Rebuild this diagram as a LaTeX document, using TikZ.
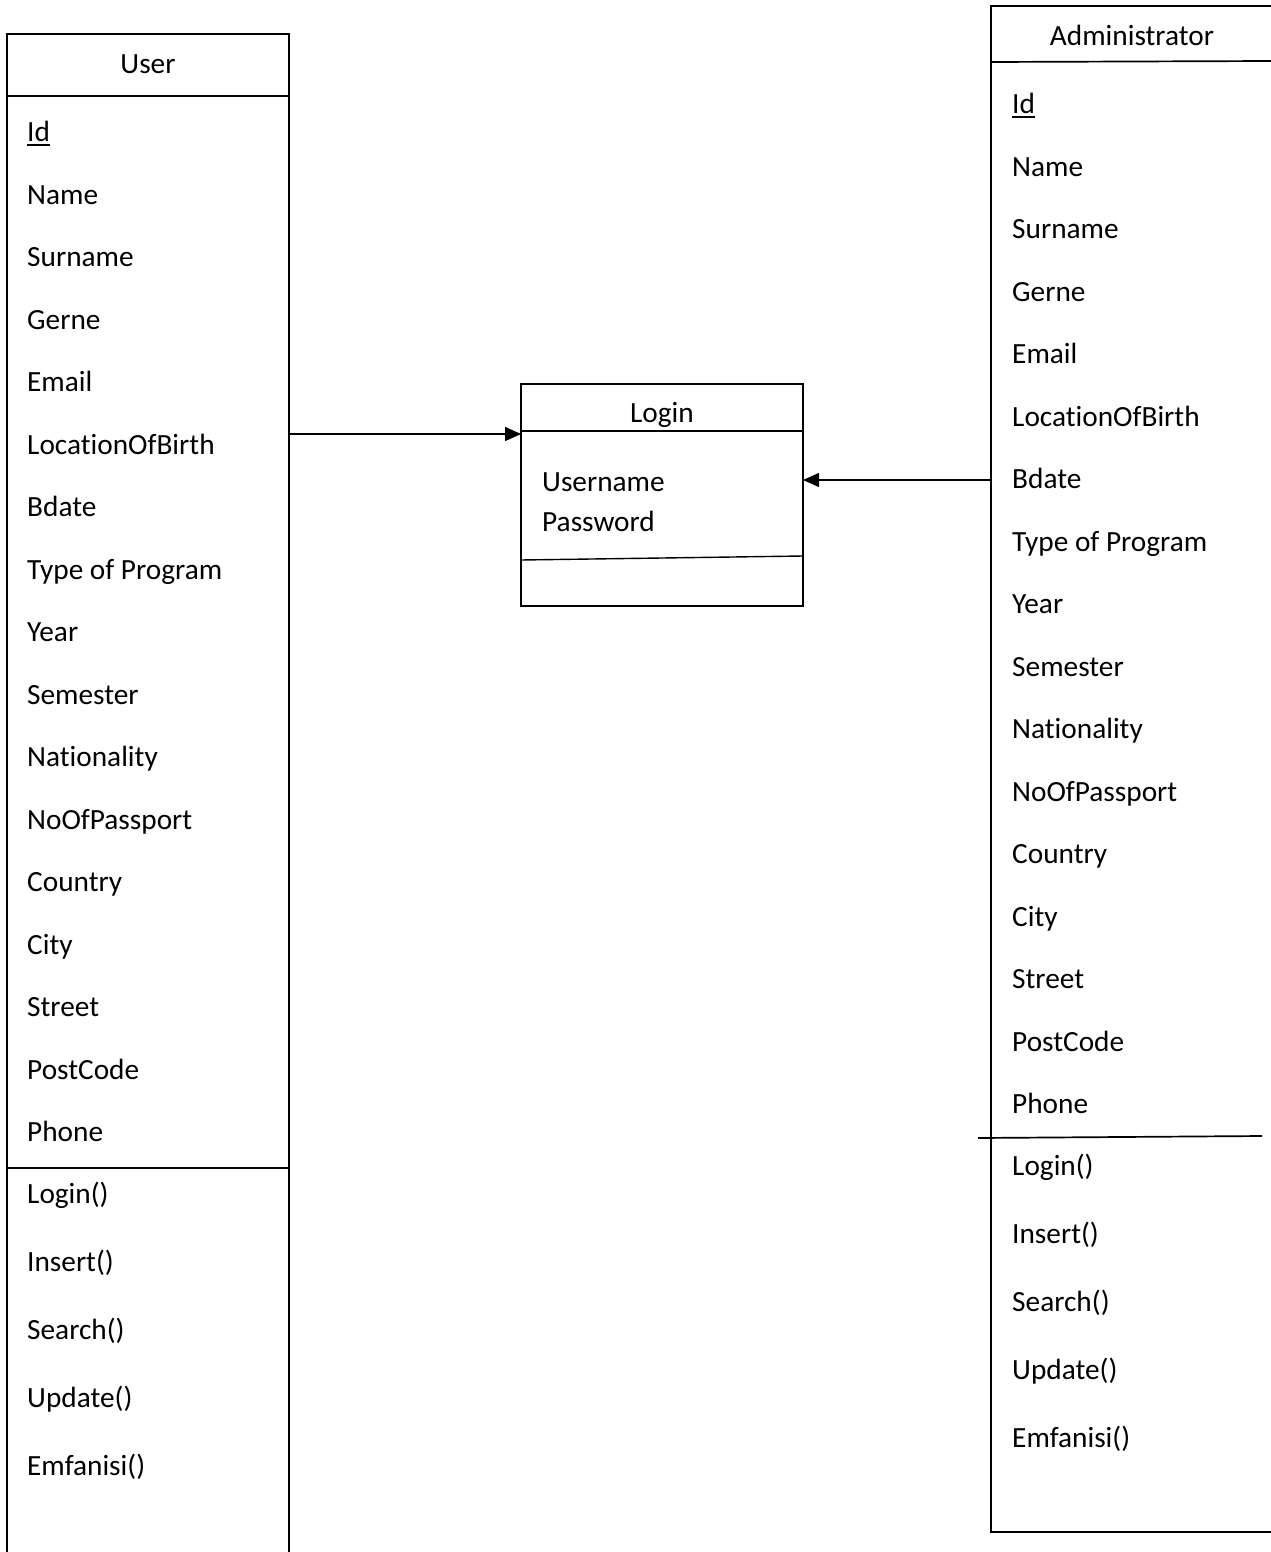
\documentclass[tikz,border=0pt]{standalone}
\usepackage{fontspec}
\setmainfont{Carlito}[Ligatures={NoCommon,NoContextual}]
\usetikzlibrary{arrows.meta}
\newcommand\ulid[1]{\setbox0\hbox{#1}\rlap{\rule[-4.5pt]{\wd0}{2.3pt}}\box0}
\tikzset{
  box/.style={draw, line width=1.7pt, inner sep=0pt, outer sep=0pt},
  lbox/.style={draw, line width=1.4pt, inner sep=0pt, outer sep=0pt},
  sep/.style={line width=1.7pt},
  lsep/.style={line width=1.4pt},
  txt/.style={anchor=base west, inner sep=0pt, font=\fontsize{29.3}{35}\selectfont},
  ttl/.style={anchor=base, inner sep=0pt, font=\fontsize{29.3}{35}\selectfont},
  arr/.style={line width=1.4pt, -{Triangle[length=16pt,width=14pt]}}
}
\begin{document}
\begin{tikzpicture}[x=1pt,y=-1pt]
\useasboundingbox (0,0) rectangle (1271,1552);
\clip (0,0) rectangle (1271,1552);
\fill[white] (0,0) rectangle (1271,1552);
% User class
\node[box, minimum width=282pt, minimum height=1540pt, anchor=north west] (user) at (7,34) {};
\draw[sep] (7,96) -- (289,96);
\draw[sep] (7,1168) -- (289,1168);
\node[ttl] (usertitle) at (148,73.5) {User};
\node[txt] (u0) at (27,141.5) {\ulid{Id}};
\foreach \t [count=\i] in {Name,Surname,Gerne,Email,LocationOfBirth,Bdate,Type of Program,Year,Semester,Nationality,NoOfPassport,Country,City,Street,PostCode,Phone}{
  \node[txt] (u\i) at (27,{141.5+62.5*\i}) {\t};
}
\foreach \t [count=\i from 0] in {Login(),Insert(),Search(),Update(),Emfanisi()}{
  \node[txt] (um\i) at (27,{1203.5+68*\i}) {\t};
}
% Administrator class
\node[box, minimum width=300pt, minimum height=1526pt, anchor=north west] (admin) at (991,6) {};
\draw[sep] (991,62) -- (1271,61);
\draw[sep] (978,1138) -- (1262,1136);
\node[ttl] (admintitle) at (1132,45.5) {Administrator};
\node[txt] (a0) at (1012,113.5) {\ulid{Id}};
\foreach \t [count=\i] in {Name,Surname,Gerne,Email,LocationOfBirth,Bdate,Type of Program,Year,Semester,Nationality,NoOfPassport,Country,City,Street,PostCode,Phone}{
  \node[txt] (a\i) at (1012,{113.5+62.5*\i}) {\t};
}
\foreach \t [count=\i from 0] in {Login(),Insert(),Search(),Update(),Emfanisi()}{
  \node[txt] (am\i) at (1012,{1175.5+68*\i}) {\t};
}
% Login class
\node[lbox, minimum width=282pt, minimum height=222pt, anchor=north west] (login) at (521,384) {};
\draw[lsep] (521,431) -- (803,431);
\draw[lsep] (521,560) -- (803,556);
\node[ttl] (logintitle) at (662,422.5) {Login};
\node[txt] (lu) at (542,491.5) {Username};
\node[txt] (lp) at (542,531.5) {Password};
% connectors
\coordinate (uin) at (521,434);
\coordinate (ain) at (803,480);
\draw[arr] (user.east |- uin) -- (uin);
\draw[arr] (admin.west |- ain) -- (ain);
\end{tikzpicture}
\end{document}
